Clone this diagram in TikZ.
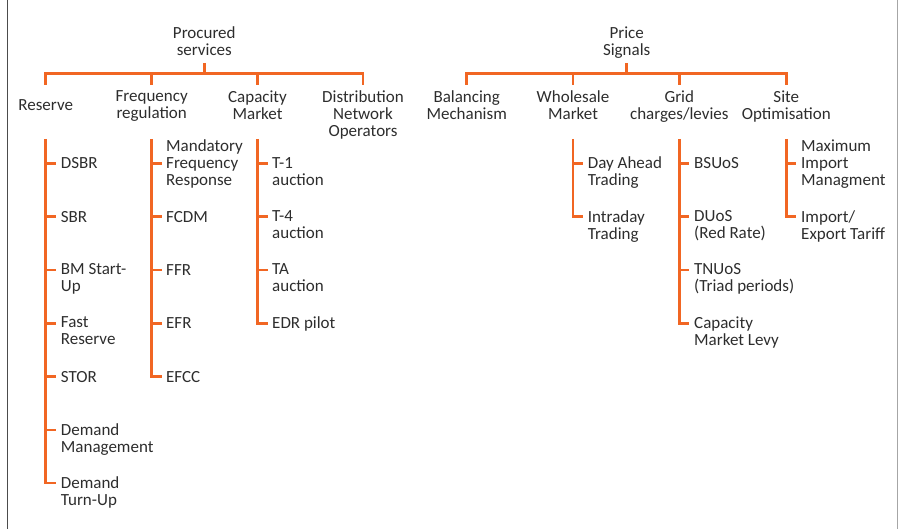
\documentclass[tikz,border=0pt]{standalone}
\usepackage{fontspec}
\setmainfont{Carlito}
\definecolor{treeorange}{RGB}{241,102,35}
\definecolor{labelgray}{RGB}{45,45,45}

\tikzset{
  lbl/.style={inner sep=0pt, align=center, text=labelgray,
    font=\fontsize{17}{17}\selectfont,
    execute at begin node=\strut, execute at end node=\strut},
  kid/.style={lbl, align=left, anchor=north west},
  branch/.style={draw=treeorange, line width=2.6pt},
}

\begin{document}
\begin{tikzpicture}[x=1pt,y=-1pt]
\useasboundingbox (0,0) rectangle (899,529);
\draw[line width=1.2pt, draw=black!70] (7.5,0) -- (7.5,529);
\draw[line width=1pt, draw=black!35] (897,0) -- (897,529);

% roots
\node[lbl, anchor=north] (proc) at (204.3,26.6) {Procured\\services};
\node[lbl, anchor=north] (price) at (626.7,26.6) {Price\\Signals};
\coordinate (procbar) at (204.3,73.3);
\coordinate (pricebar) at (626.7,73.3);

% first level
\node[lbl, anchor=north] (res) at (45.7,98.6) {Reserve};
\node[lbl, anchor=north] (freq) at (151.7,90.6) {Frequency\\regulation};
\node[lbl, anchor=north] (cap) at (257.5,90.6) {Capacity\\Market};
\node[lbl, anchor=north] (dno) at (363,90.6) {Distribution\\Network\\Operators};

\node[lbl, anchor=north] (bm) at (466.7,90.6) {Balancing\\Mechanism};
\node[lbl, anchor=north] (whole) at (573,90.6) {Wholesale\\Market};
\node[lbl, anchor=north] (grid) at (679.3,90.6) {Grid\\charges/levies};
\node[lbl, anchor=north] (site) at (786.3,90.6) {Site\\Optimisation};

% second level
\node[kid] (dsbr) at (60.7,156.9) {DSBR};
\node[kid] (sbr) at (60.7,210.2) {SBR};
\node[kid] (bmsu) at (60.7,263.5) {BM Start-\\Up};
\node[kid] (fast) at (60.7,316.8) {Fast\\Reserve};
\node[kid] (stor) at (60.7,370.1) {STOR};
\node[kid] (dmgt) at (60.7,423.4) {Demand\\Management};
\node[kid] (dtu) at (60.7,476.7) {Demand\\Turn-Up};

\node[kid] (mfr) at (166,139.9) {Mandatory\\Frequency\\Response};
\node[kid] (fcdm) at (166,210.2) {FCDM};
\node[kid] (ffr) at (166,263.5) {FFR};
\node[kid] (efr) at (166,316.8) {EFR};
\node[kid] (efcc) at (166,370.1) {EFCC};

\node[kid] (tone) at (272,156.9) {T-1\\auction};
\node[kid] (tfour) at (272,210.2) {T-4\\auction};
\node[kid] (ta) at (272,263.5) {TA\\auction};
\node[kid] (edr) at (272,316.8) {EDR pilot};

\node[kid] (dah) at (587.7,156.9) {Day Ahead\\Trading};
\node[kid] (intra) at (587.7,210.2) {Intraday\\Trading};

\node[kid] (bsuos) at (694,156.9) {BSUoS};
\node[kid] (duos) at (694,210.2) {DUoS\\(Red Rate)};
\node[kid] (tnuos) at (694,263.5) {TNUoS\\(Triad periods)};
\node[kid] (cml) at (694,316.8) {Capacity\\Market Levy};

\node[kid] (mim) at (801,139.9) {Maximum\\Import\\Managment};
\node[kid] (iet) at (801,210.2) {Import/\\Export Tariff};

% bars and drops
\draw[branch] (proc.south) ++(0,2) -- (procbar);
\draw[branch] (res |- procbar) ++(0,11.7) -- (res |- procbar) -- (dno |- procbar) -- ++(0,11.7);
\foreach \n in {freq,cap}
  \draw[branch] (\n |- procbar) -- ++(0,11.7);

\draw[branch] (price.south) ++(0,2) -- (pricebar);
\draw[branch] (bm |- pricebar) ++(0,11.7) -- (bm |- pricebar) -- (site |- pricebar) -- ++(0,11.7);
\foreach \n in {whole,grid}
  \draw[branch] (\n |- pricebar) -- ++(0,11.7);

% spines, ending in the last tick
\foreach \s/\k in {res/dtu,freq/efcc,cap/edr,whole/intra,grid/cml,site/iet}
  \draw[branch] (\s |- 0,139) -- (\s |- \k.north) -- ++(0,6.4) -- ++(10,0);

% ticks
\foreach \s/\k in {res/dsbr,res/sbr,res/bmsu,res/fast,res/stor,res/dmgt,
    freq/fcdm,freq/ffr,freq/efr,cap/tone,cap/tfour,cap/ta,
    whole/dah,grid/bsuos,grid/duos,grid/tnuos}
  \draw[branch] (\s |- \k.north) ++(0,6.4) -- ++(10,0);
\foreach \s/\k in {freq/mfr,site/mim}
  \draw[branch] (\s |- \k.north) ++(0,23.4) -- ++(10,0);
\end{tikzpicture}
\end{document}
